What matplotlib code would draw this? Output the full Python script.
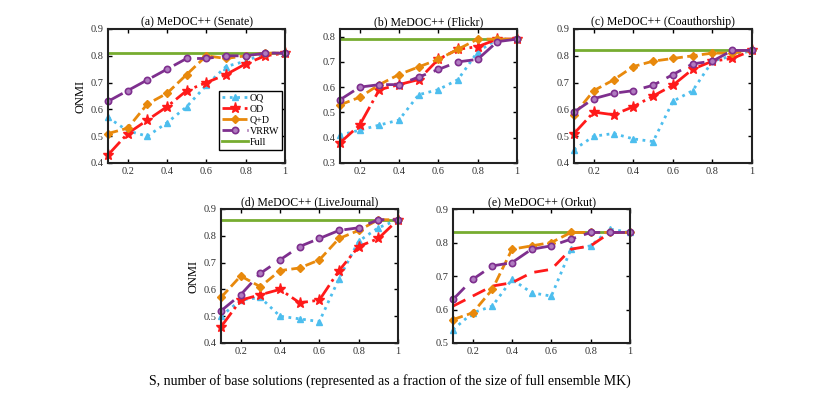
import matplotlib
matplotlib.use("Agg")
import matplotlib.pyplot as plt
import numpy as np

plt.rcParams['font.family'] = ['Liberation Serif', 'DejaVu Serif']

x = [0.1, 0.2, 0.3, 0.4, 0.5, 0.6, 0.7, 0.8, 0.9, 1.0]

titles = ["(a) MeDOC++ (Senate)", "(b) MeDOC++ (Flickr)", "(c) MeDOC++ (Coauthorship)",
          "(d) MeDOC++ (LiveJournal)", "(e) MeDOC++ (Orkut)"]

senate_oq = [0.57, 0.52, 0.50, 0.55, 0.61, 0.69, 0.76, 0.78, 0.81, 0.81]
senate_od = [0.43, 0.51, 0.56, 0.61, 0.67, 0.70, 0.73, 0.77, 0.80, 0.81]
senate_qd = [0.51, 0.53, 0.62, 0.66, 0.73, 0.80, 0.79, 0.80, 0.81, 0.81]
senate_vrrw = [0.63, 0.67, 0.71, 0.75, 0.79, 0.79, 0.80, 0.80, 0.81, 0.81]
senate_full = 0.81

flickr_oq = [0.41, 0.43, 0.45, 0.47, 0.57, 0.59, 0.63, 0.74, 0.79, 0.79]
flickr_od = [0.38, 0.45, 0.59, 0.61, 0.63, 0.71, 0.75, 0.76, 0.79, 0.79]
flickr_qd = [0.53, 0.56, 0.61, 0.65, 0.68, 0.71, 0.75, 0.79, 0.79, 0.79]
flickr_vrrw = [0.55, 0.60, 0.61, 0.61, 0.64, 0.67, 0.70, 0.71, 0.78, 0.79]
flickr_full = 0.79

coauth_oq = [0.45, 0.50, 0.51, 0.49, 0.48, 0.63, 0.67, 0.78, 0.80, 0.82]
coauth_od = [0.51, 0.59, 0.58, 0.61, 0.65, 0.69, 0.75, 0.78, 0.79, 0.82]
coauth_qd = [0.58, 0.67, 0.71, 0.76, 0.78, 0.79, 0.80, 0.81, 0.81, 0.82]
coauth_vrrw = [0.59, 0.64, 0.66, 0.67, 0.69, 0.73, 0.77, 0.78, 0.82, 0.82]
coauth_full = 0.82

lj_oq = [0.50, 0.56, 0.57, 0.50, 0.49, 0.48, 0.64, 0.78, 0.83, 0.86]
lj_od = [0.46, 0.56, 0.58, 0.60, 0.55, 0.56, 0.67, 0.76, 0.79, 0.86]
lj_qd = [0.57, 0.65, 0.61, 0.67, 0.68, 0.71, 0.79, 0.82, 0.86, 0.86]
lj_vrrw = [0.52, 0.58, 0.66, 0.71, 0.76, 0.79, 0.82, 0.83, 0.86, 0.86]
lj_full = 0.86

orkut_oq = [0.54, 0.59, 0.61, 0.69, 0.65, 0.64, 0.78, 0.79, 0.84, 0.83]
orkut_od = [0.61, 0.64, 0.67, 0.68, 0.71, 0.72, 0.78, 0.79, 0.83, 0.83]
orkut_qd = [0.57, 0.59, 0.66, 0.78, 0.79, 0.80, 0.83, 0.83, 0.83, 0.83]
orkut_vrrw = [0.63, 0.69, 0.73, 0.74, 0.78, 0.79, 0.81, 0.83, 0.83, 0.83]
orkut_full = 0.83

panels = [
    (senate_oq, senate_od, senate_qd, senate_vrrw, senate_full),
    (flickr_oq, flickr_od, flickr_qd, flickr_vrrw, flickr_full),
    (coauth_oq, coauth_od, coauth_qd, coauth_vrrw, coauth_full),
    (lj_oq, lj_od, lj_qd, lj_vrrw, lj_full),
    (orkut_oq, orkut_od, orkut_qd, orkut_vrrw, orkut_full),
]
ylims = [(0.4, 0.9), (0.3, 0.83), (0.4, 0.9), (0.4, 0.9), (0.5, 0.9)]
yticks = [np.arange(0.4, 0.91, 0.1), np.arange(0.3, 0.81, 0.1), np.arange(0.4, 0.91, 0.1),
          np.arange(0.4, 0.91, 0.1), np.arange(0.5, 0.91, 0.1)]
# pixel boxes (left, top, right, bottom)
boxes = [(108, 29, 285, 163), (340, 29, 517, 163), (574, 29, 752, 163),
         (221, 209, 398, 343), (453, 209, 630, 343)]

W, H = 830, 393
fig = plt.figure(figsize=(W / 100, H / 100), dpi=100)

c_oq = '#4DBEEE'
c_od = '#FF1A1A'
c_qd = '#E8890C'
c_vrrw = '#7E2F8E'
c_full = '#77AC30'

for i, (data, yl, yt, box) in enumerate(zip(panels, ylims, yticks, boxes)):
    l, t, r, b = box
    ax = fig.add_axes([l / W, 1 - b / H, (r - l) / W, (b - t) / H])
    oq, od, qd, vr, full = data
    ax.plot([0.1, 1.0], [full, full], color=c_full, lw=2, label='Full', zorder=1)
    ax.plot(x, oq, linestyle=':', color=c_oq, lw=2, marker='^', ms=5,
            markerfacecolor=c_oq, markeredgecolor=c_oq, label='OQ', zorder=3, clip_on=False)
    if i == 4:
        ax.plot(x, od, linestyle=(0, (5, 3)), color=c_od, lw=2, label='OD', zorder=3)
    else:
        ax.plot(x, od, linestyle='-.', color=c_od, lw=2, marker='*', ms=8,
                markerfacecolor=c_od, markeredgecolor=c_od, label='OD', zorder=3, clip_on=False)
    ax.plot(x, qd, linestyle='--', color=c_qd, lw=2, marker='D', ms=4,
            markerfacecolor=c_qd, markeredgecolor=c_qd, label='Q+D', zorder=3, clip_on=False)
    ax.plot(x, vr, linestyle=(0, (6, 3)), color=c_vrrw, lw=2, marker='o', ms=4.5,
            markerfacecolor='#B07CC0', markeredgecolor=c_vrrw, mew=1.2, label='VRRW',
            zorder=3, clip_on=False)
    ax.set_xlim(0.1, 1.0)
    ax.set_ylim(*yl)
    ax.set_xticks([0.2, 0.4, 0.6, 0.8, 1.0])
    ax.set_xticklabels(['0.2', '0.4', '0.6', '0.8', '1'])
    ax.set_yticks(yt)
    ax.set_yticklabels(['%.1f' % v for v in yt])
    ax.tick_params(direction='in', top=True, right=True, labelsize=7.5, length=3,
                   width=1, labelcolor='#333333', pad=3)
    for s in ax.spines.values():
        s.set_linewidth(1.5)
        s.set_color('#222222')
        s.set_zorder(4)
    ax.set_title(titles[i], fontsize=8.5, pad=3)
    if i in (0, 3):
        ax.set_ylabel('ONMI', fontsize=9, labelpad=3)
    if i == 0:
        h, lab = ax.get_legend_handles_labels()
        order = [1, 2, 3, 4, 0]
        leg = ax.legend([h[k] for k in order], [lab[k] for k in order], loc='lower right',
                        bbox_to_anchor=(0.985, 0.1),
                        fontsize=7.2, frameon=True, fancybox=False, edgecolor='black',
                        handlelength=2.6, handletextpad=0.2, borderpad=0.3,
                        labelspacing=0.2, borderaxespad=0.0, framealpha=1)
        leg.get_frame().set_linewidth(1.0)
        leg.set_zorder(5)

fig.text(390 / W, 1 - 381 / H,
         'S, number of base solutions (represented as a fraction of the size of full ensemble MK)',
         ha='center', va='center', fontsize=10)

fig.savefig('out.png', dpi=100)
